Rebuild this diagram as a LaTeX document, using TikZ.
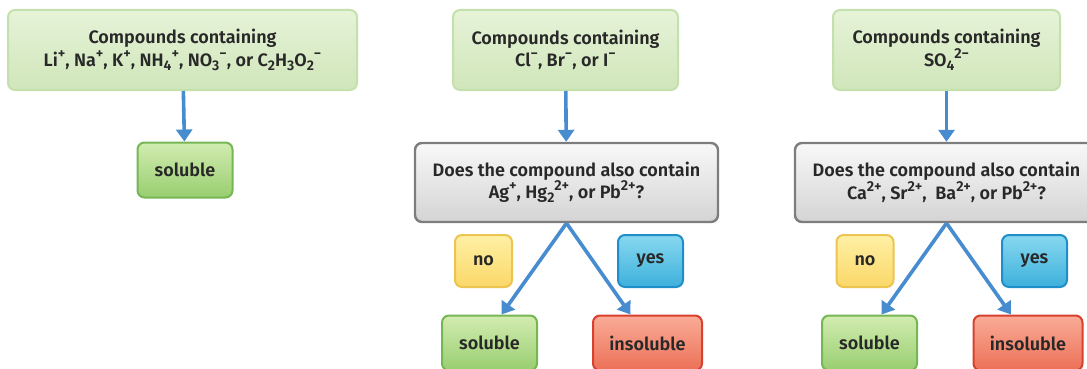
\documentclass[tikz,border=0pt]{standalone}
\usepackage{fontspec}
\setmainfont{Fira Sans SemiBold}
\usetikzlibrary{arrows.meta,shapes}
\newcommand{\ionup}[1]{\raisebox{0.45em}{\scalebox{0.8}{#1}}}
\newcommand{\iondn}[1]{\raisebox{-0.22em}{\scalebox{0.78}{#1}}}
\definecolor{textgray}{RGB}{40,40,40}
\definecolor{arrowblue}{RGB}{72,140,208}
\tikzstyle{box}=[rounded corners=7pt,line width=2pt,align=center,text=textgray,inner sep=0pt,font=\fontsize{18}{22.5}\selectfont]
\tikzstyle{cmpd}=[box,draw={rgb,255:red,196;green,224;blue,172},top color={rgb,255:red,230;green,243;blue,216},bottom color={rgb,255:red,208;green,230;blue,186},minimum height=80pt]
\tikzstyle{question}=[box,line width=2.4pt,draw={rgb,255:red,125;green,125;blue,125},top color={rgb,255:red,248;green,248;blue,248},bottom color={rgb,255:red,212;green,212;blue,212},minimum width=303pt,minimum height=79pt]
\tikzstyle{sol}=[box,draw={rgb,255:red,118;green,182;blue,84},top color={rgb,255:red,210;green,236;blue,176},bottom color={rgb,255:red,152;green,206;blue,112},minimum width=95pt,minimum height=55pt]
\tikzstyle{insol}=[box,draw={rgb,255:red,214;green,66;blue,46},top color={rgb,255:red,250;green,172;blue,152},bottom color={rgb,255:red,236;green,112;blue,86},minimum width=109pt,minimum height=55pt]
\tikzstyle{nobox}=[box,draw={rgb,255:red,236;green,196;blue,82},top color={rgb,255:red,255;green,240;blue,165},bottom color={rgb,255:red,250;green,216;blue,104},minimum width=57pt,minimum height=52pt]
\tikzstyle{yesbox}=[box,draw={rgb,255:red,32;green,142;blue,200},top color={rgb,255:red,135;green,216;blue,240},bottom color={rgb,255:red,62;green,176;blue,220},minimum width=65pt,minimum height=52pt]
\tikzstyle{flow}=[draw=arrowblue,line width=3.6pt,-{Triangle[length=12pt,width=16pt]}]

\begin{document}
\begin{tikzpicture}[x=1pt,y=-1pt]
    \useasboundingbox (0,0) rectangle (1087,369);
    % First the three groups of compounds
    \node[cmpd,minimum width=349pt] (cmpdA) at (182.5,50) {Compounds containing\\Li\ionup{+}, Na\ionup{+}, K\ionup{+}, NH\iondn{4}\ionup{+}, NO\iondn{3}\ionup{−}, or C\iondn{2}H\iondn{3}O\iondn{2}\ionup{−}};
    \node[cmpd,minimum width=225pt] (cmpdB) at (565.5,50) {Compounds containing\\Cl\ionup{−}, Br\ionup{−}, or I\ionup{−}};
    \node[cmpd,minimum width=227pt] (cmpdC) at (946.5,50) {Compounds containing\\SO\iondn{4}\ionup{2−}};

    % the questions
    \node[question] (qB) at (566.5,182.5) {Does the compound also contain\\Ag\ionup{+}, Hg\iondn{2}\ionup{2+}, or Pb\ionup{2+}?};
    \node[question] (qC) at (946.5,182.5) {Does the compound also contain\\Ca\ionup{2+}, Sr\ionup{2+}, \ Ba\ionup{2+}, or Pb\ionup{2+}?};

    % answers and results
    \foreach \pos/\name/\kind/\txt in {{(185,170)/solA/sol/soluble}, {(483.5,261)/noB/nobox/no}, {(650.5,261)/yesB/yesbox/yes},
        {(489.5,343)/solB/sol/soluble}, {(647.5,343)/insB/insol/insoluble}, {(865,261)/noC/nobox/no},
        {(1034.5,261)/yesC/yesbox/yes}, {(869.5,343)/solC/sol/soluble}, {(1028,343)/insC/insol/insoluble}}
        \node[\kind] (\name) at \pos {\txt};

    % Connect boxes with arrows
    \foreach \source/\dest in {cmpdA/solA, cmpdB/qB, cmpdC/qC}
        \path[flow] (\source) -- (\dest);
    \foreach \q/\s/\i in {qB/solB/insB, qC/solC/insC} {
        \path[flow] (\q.south) -- ([xshift=12pt]\s.north);
        \path[flow] (\q.south) -- ([xshift=-17pt]\i.north);
    }
\end{tikzpicture}
\end{document}
